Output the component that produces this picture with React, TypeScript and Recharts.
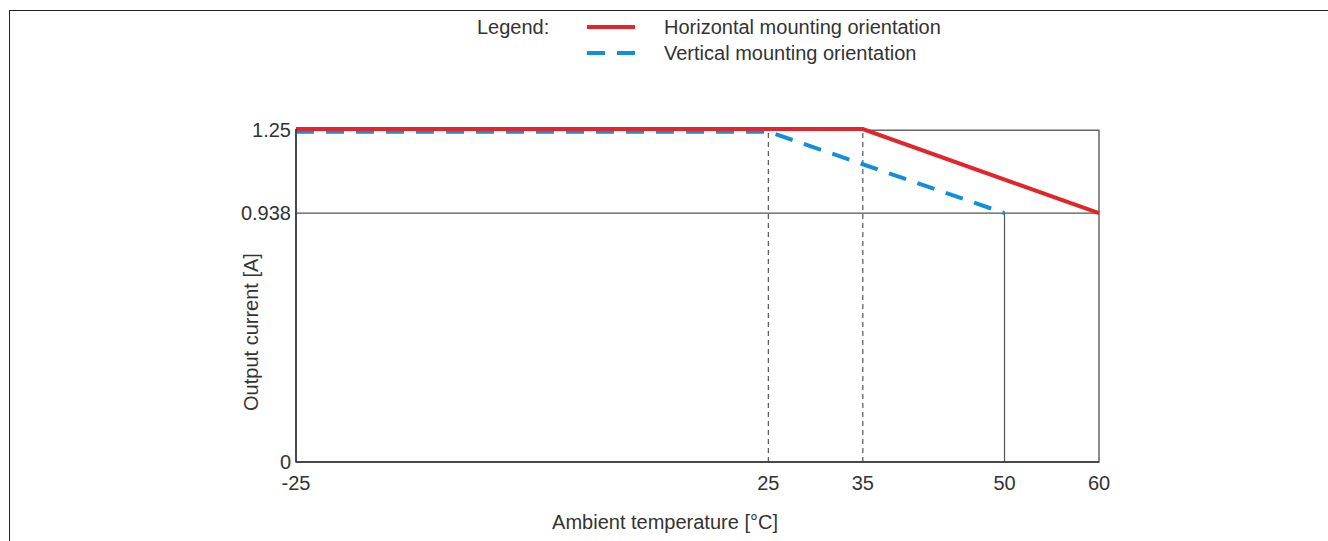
import React from "react"
import {
  LineChart,
  Line,
  XAxis,
  YAxis,
  ReferenceLine,
  ReferenceArea,
  Legend,
} from "recharts"

// derating curves
const horizontalTemp = [-25, 35, 60]
const horizontalCurrent = [1.255, 1.255, 0.938]
const verticalTemp = [-25, 25, 50]
const verticalCurrent = [1.245, 1.245, 0.938]

const xTicks = [-25, 25, 35, 50, 60]
const yTicks = [0, 0.938, 1.25]
const dashedMarks = [25, 35]

const horizontalData = horizontalTemp.map((t, i) => ({ t, a: horizontalCurrent[i] }))
const verticalData = verticalTemp.map((t, i) => ({ t, a: verticalCurrent[i] }))

const FONT = "'Liberation Sans', Arial, sans-serif"
const TEXT = "#333333"
const RED = "#e2242c"
const BLUE = "#118fd8"
const FS = 20

function LegendBox({ payload }: any) {
  return (
    <div style={{ display: "flex", fontFamily: FONT, fontSize: FS, color: TEXT, lineHeight: "26px" }}>
      <div style={{ width: 110 }}>Legend:</div>
      <div>
        {(payload || []).map((p: any) => (
          <div key={p.value} style={{ display: "flex", alignItems: "center" }}>
            <svg width={77} height={26}>
              <line
                x1={0}
                x2={48}
                y1={13}
                y2={13}
                stroke={p.color}
                strokeWidth={4}
                strokeDasharray={p.payload?.strokeDasharray}
              />
            </svg>
            <span>{p.value}</span>
          </div>
        ))}
      </div>
    </div>
  )
}

export default function App() {
  return (
    <div style={{ position: "absolute", left: 0, top: 0, width: 1328, height: 541, background: "#fff" }}>
      <div
        style={{
          position: "absolute",
          left: 9,
          top: 10,
          right: 0,
          bottom: -10,
          borderTop: "1.5px solid #222",
          borderLeft: "1.5px solid #222",
        }}
      />
      <LineChart
        width={1328}
        height={541}
        margin={{ top: 129, right: 229, bottom: 29, left: 220 }}
        style={{ fontFamily: FONT }}
      >
        <XAxis
          dataKey="t"
          type="number"
          domain={[-25, 60]}
          ticks={xTicks}
          height={50}
          tickLine={false}
          tickMargin={8}
          axisLine={{ stroke: "#333", strokeWidth: 1.5 }}
          tick={{ fill: TEXT, fontSize: FS }}
          label={(props: any) => {
            const vb = props.viewBox
            return (
              <text x={vb.x + 369} y={vb.y + 67} textAnchor="middle" fill={TEXT} fontSize={FS} fontFamily={FONT}>
                Ambient temperature [°C]
              </text>
            )
          }}
        />
        <YAxis
          type="number"
          domain={[0, 1.255]}
          ticks={yTicks}
          width={76}
          tickLine={false}
          tickSize={4}
          tickMargin={1}
          axisLine={{ stroke: "#333", strokeWidth: 1.5 }}
          tick={{ fill: TEXT, fontSize: FS }}
          label={(props: any) => {
            const vb = props.viewBox
            const cx = vb.x + 31
            const cy = vb.y + 203
            return (
              <text
                x={cx}
                y={cy}
                transform={`rotate(-90 ${cx} ${cy})`}
                textAnchor="middle"
                dominantBaseline="central"
                fill={TEXT}
                fontSize={FS}
                fontFamily={FONT}
              >
                Output current [A]
              </text>
            )
          }}
        />
        <ReferenceArea
          x1={-25}
          x2={60}
          y1={0}
          y2={1.25}
          fill="none"
          stroke="#666"
          strokeWidth={1.5}
          ifOverflow="visible"
        />
        <ReferenceLine y={0.938} stroke="#555" strokeWidth={1.2} />
        {dashedMarks.map((x) => (
          <ReferenceLine
            key={x}
            segment={[
              { x, y: 0 },
              { x, y: 1.25 },
            ]}
            stroke="#555"
            strokeWidth={1.2}
            strokeDasharray="5 4"
          />
        ))}
        <ReferenceLine
          segment={[
            { x: 50, y: 0 },
            { x: 50, y: 0.938 },
          ]}
          stroke="#555"
          strokeWidth={1.2}
        />
        <Legend
          verticalAlign="middle"
          wrapperStyle={{ top: 14, left: 477, width: "auto", height: "auto" }}
          content={<LegendBox />}
        />
        <Line
          data={verticalData}
          dataKey="a"
          name="Vertical mounting orientation"
          stroke={BLUE}
          strokeWidth={4}
          strokeDasharray="18 12"
          dot={false}
          activeDot={false}
          isAnimationActive={false}
          legendType="line"
        />
        <Line
          data={horizontalData}
          dataKey="a"
          name="Horizontal mounting orientation"
          stroke={RED}
          strokeWidth={4}
          dot={false}
          activeDot={false}
          isAnimationActive={false}
          legendType="line"
        />
      </LineChart>
    </div>
  )
}
